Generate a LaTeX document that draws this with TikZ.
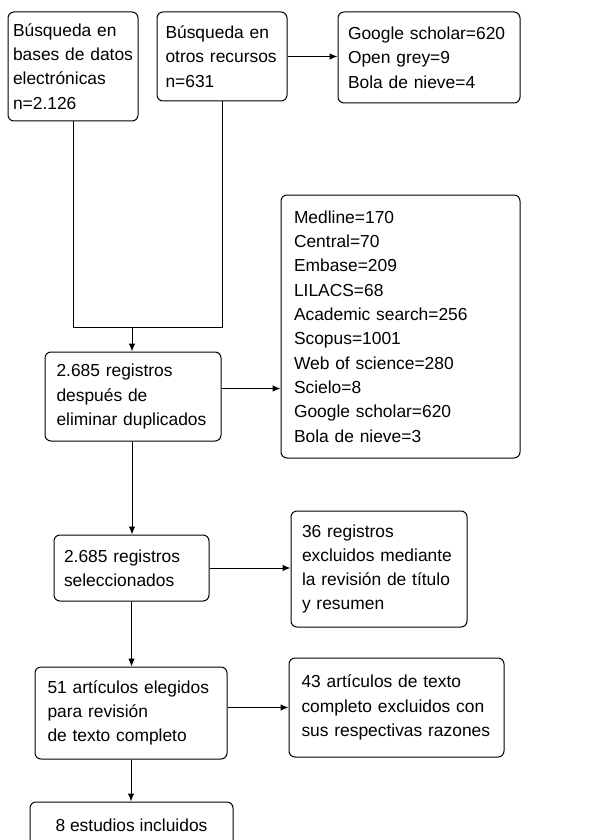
\documentclass[tikz,border=0pt]{standalone}
\usepackage{fontspec}
\setmainfont{Liberation Sans}
\usetikzlibrary{arrows.meta}

\begin{document}
\begin{tikzpicture}[x=1pt,y=-1pt,
    box/.style={draw, line width=1pt, rounded corners=6pt, inner sep=0pt, align=left,
      font=\fontsize{17.4}{24.3}\selectfont},
    flow/.style={-{Latex[length=8pt,width=6.5pt]}, line width=1pt}]
    \useasboundingbox (0,0) rectangle (606,840);

    % searches
    \node[box, minimum width=130pt, minimum height=109pt, text width=120pt] (bases) at (73,66.5)
        {Búsqueda en\\bases de datos\\electrónicas\\n=2.126};
    \node[box, minimum width=130pt, minimum height=89pt, text width=113pt] (otros) at (222,56.5)
        {Búsqueda en\\otros recursos\\n=631};
    \node[box, minimum width=182pt, minimum height=91pt, text width=162pt] (otroslist) at (429,57.5)
        {Google scholar=620\\Open grey=9\\Bola de nieve=4};

    % duplicates
    \node[box, minimum width=176pt, minimum height=89pt, text width=153pt] (dupl) at (133,396.5)
        {2.685 registros\\después de\\eliminar duplicados};
    \node[box, minimum width=239pt, minimum height=263pt, text width=213pt] (baseslist) at (400.5,326.5)
        {Medline=170\\Central=70\\Embase=209\\LILACS=68\\Academic search=256\\Scopus=1001\\Web of science=280\\Scielo=8\\Google scholar=620\\Bola de nieve=3};

    % screening
    \node[box, minimum width=155pt, minimum height=66pt, text width=135pt] (selec) at (131.5,568)
        {2.685 registros\\seleccionados};
    \node[box, minimum width=176pt, minimum height=116pt, text width=154pt] (excl1) at (379,569)
        {36 registros\\excluidos mediante\\la revisión de título\\y resumen};

    % eligibility
    \node[box, minimum width=192pt, minimum height=92pt, text width=167pt] (eleg) at (131,713)
        {51 artículos elegidos\\para revisión\\de texto completo};
    \node[box, minimum width=215pt, minimum height=99pt, text width=190pt] (excl2) at (396.5,707.5)
        {43 artículos de texto\\completo excluidos con\\sus respectivas razones};

    % included
    \node[box, align=center, minimum width=203pt, minimum height=46pt] (incl) at (131.5,825)
        {8 estudios incluidos};

    % connectors
    \coordinate (join) at (132,327);
    \draw[line width=1pt] (bases.south) |- (join);
    \draw[line width=1pt] (otros.south) |- (join);
    \draw[flow] (join) -- (join |- dupl.north);
    \draw[flow] (otros.east) -- (otros.east -| otroslist.west);
    \draw[flow] ([yshift=8pt]dupl.east) -- ([yshift=8pt]dupl.east -| baseslist.west);
    \draw[flow] ([xshift=-1pt]dupl.south) -- ([xshift=-1pt]dupl.south |- selec.north);
    \draw[flow] (selec.east) -- (selec.east -| excl1.west);
    \draw[flow] (selec.south) -- (selec.south |- eleg.north);
    \draw[flow] (eleg.east |- excl2.west) -- (excl2.west);
    \draw[flow] (eleg.south) -- (eleg.south |- incl.north);
\end{tikzpicture}
\end{document}
